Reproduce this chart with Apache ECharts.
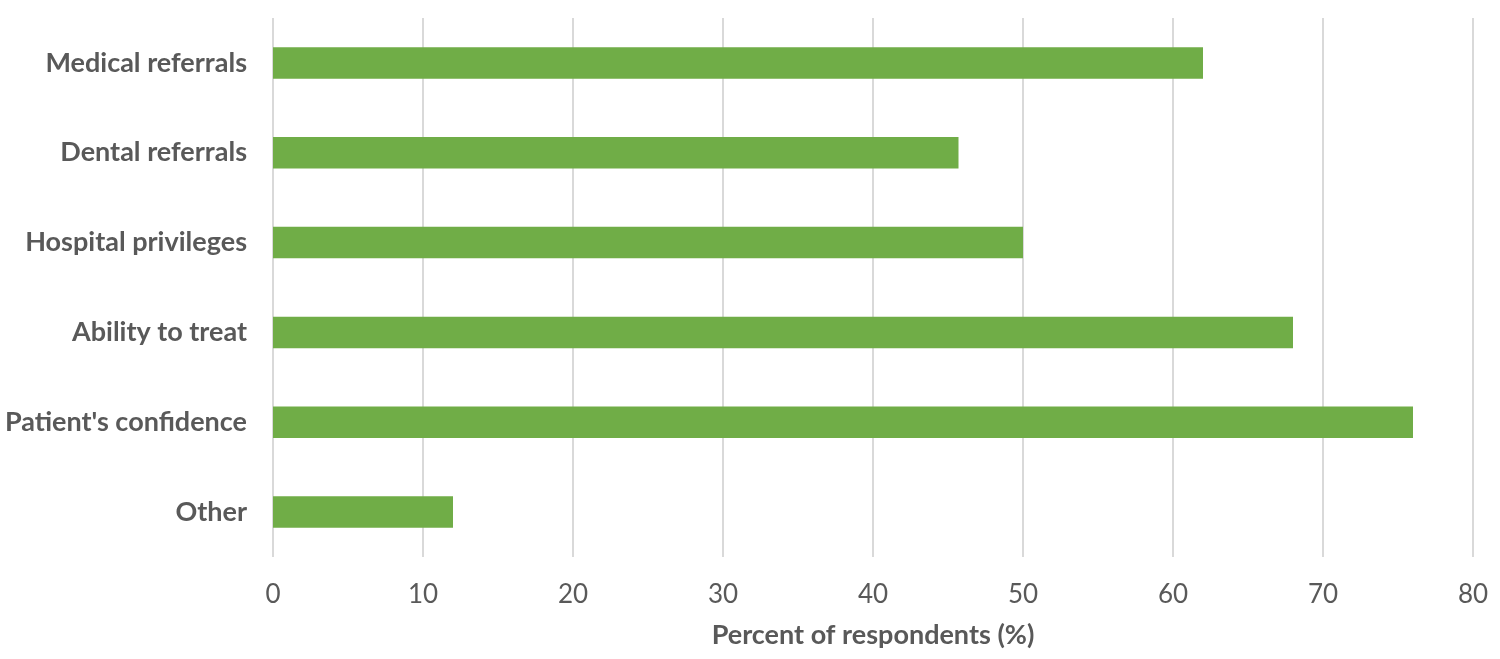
<!DOCTYPE html>
<html style="height: 100%">
<head>
<meta charset="utf-8">
</head>
<body style="width: 100%; height: 100%; margin: 0; background: #fff;">
<div id="container" style="width: 1500px; height: 659px"></div>
<script type="text/javascript" src="https://cdn.jsdelivr.net/npm/echarts@6/dist/echarts.min.js"></script>
<script type="text/javascript">
	var categories = ['Medical referrals', 'Dental referrals', 'Hospital privileges', 'Ability to treat', "Patient's confidence", 'Other'];
	var percents = [62, 45.7, 50, 68, 76, 12];
	var xTicks = [0, 10, 20, 30, 40, 50, 60, 70, 80];

	var font = 'Lato, "Liberation Sans", sans-serif';
	var myChart = echarts.init(document.getElementById('container'));
	var option = {
		animation: false,
		grid: {
			left: 273,
			right: 27,
			top: 18,
			bottom: 102
		},
		xAxis: {
			type: 'value',
			min: xTicks[0],
			max: xTicks[xTicks.length - 1],
			interval: 10,
			name: 'Percent of respondents (%)',
			nameLocation: 'middle',
			nameGap: 65,
			nameTextStyle: {
				color: '#595959',
				fontFamily: font,
				fontWeight: 'bold',
				fontSize: 27
			},
			axisLine: { show: false },
			axisTick: { show: false },
			axisLabel: {
				color: '#595959',
				fontFamily: font,
				fontSize: 26,
				margin: 25
			},
			splitLine: {
				lineStyle: {
					color: '#d9d9d9',
					width: 2
				}
			}
		},
		yAxis: {
			type: 'category',
			inverse: true,
			data: categories,
			axisLine: { show: false },
			axisTick: { show: false },
			axisLabel: {
				color: '#595959',
				fontFamily: font,
				fontWeight: 'bold',
				fontSize: 27,
				margin: 26
			}
		},
		series: [
			{
				type: 'bar',
				data: percents,
				barWidth: '35%',
				itemStyle: {
					color: '#70ad47'
				}
			}
		]
	};
	myChart.setOption(option);
</script>
</body>
</html>
